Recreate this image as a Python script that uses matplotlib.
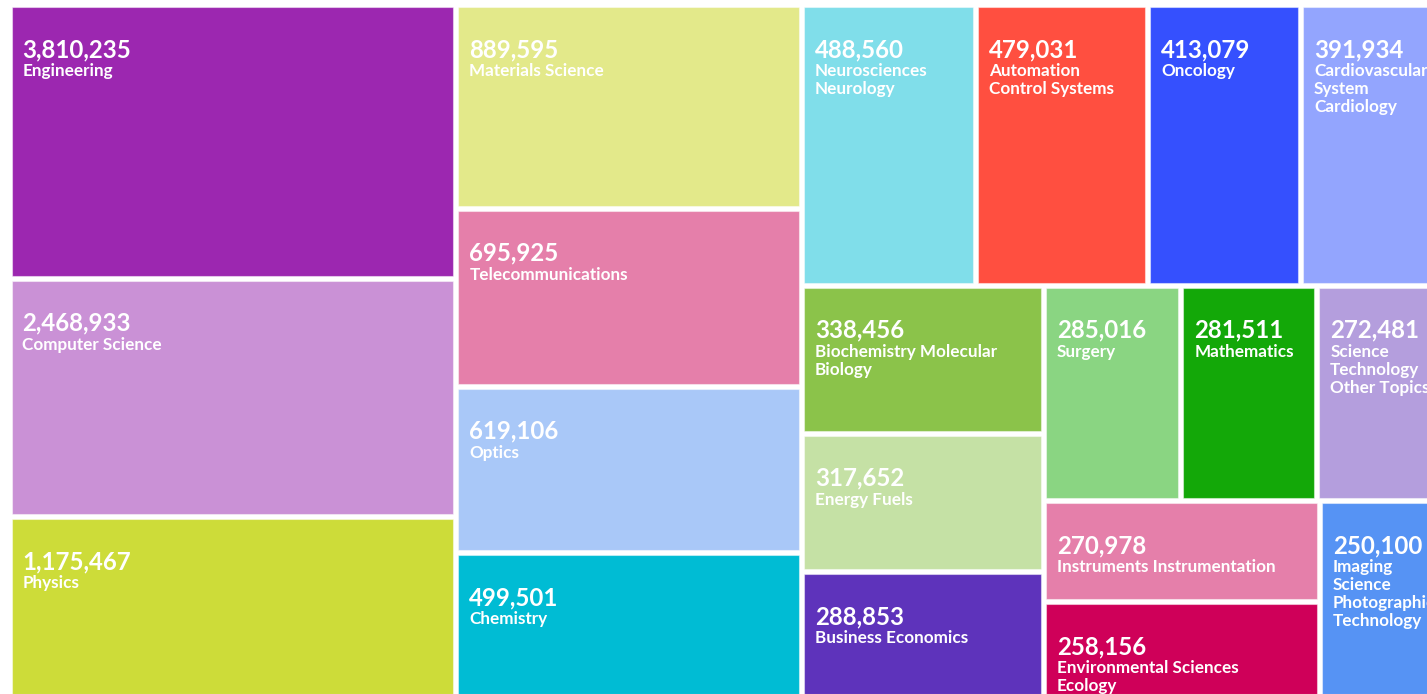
# Treemap of Web of Science records per research area (tile size ~ log of count).

import numpy as np
import matplotlib.pyplot as plt
from matplotlib.patches import Rectangle
from matplotlib.font_manager import FontProperties

subjects = ["Engineering", "Computer Science", "Physics", "Materials Science",
            "Telecommunications", "Optics", "Chemistry", "Neurosciences Neurology",
            "Automation Control Systems", "Oncology", "Cardiovascular System Cardiology",
            "Biochemistry Molecular Biology", "Energy Fuels", "Business Economics",
            "Surgery", "Mathematics", "Science Technology Other Topics",
            "Instruments Instrumentation", "Environmental Sciences Ecology",
            "Imaging Science Photographic Technology"]
counts = [3810235, 2468933, 1175467, 889595, 695925, 619106, 499501, 488560,
          479031, 413079, 391934, 338456, 317652, 288853, 285016, 281511,
          272481, 270978, 258156, 250100]
colors = ["#9C27B0", "#CA91D6", "#CDDC39", "#E3E98A", "#E57FAA", "#A9C8F8",
          "#00BCD4", "#80DEEA", "#FF4F40", "#3550FE", "#93A5FE", "#8BC34A",
          "#C5E1A5", "#5E33BB", "#8AD582", "#13A808", "#B49EDD", "#E57FAA",
          "#CF0059", "#5693F4"]

LOG_FLOOR = 124000   # tiles are sized by log(count / floor)


def squarify(weights, x0, y0, x1, y1, ratio=(1 + 5 ** 0.5) / 2):
    # same row rule as d3.treemapSquarify
    rects = [None] * len(weights)
    total = float(sum(weights))
    n = len(weights)
    i0 = 0
    while i0 < n:
        dx, dy = x1 - x0, y1 - y0
        s = lo = hi = weights[i0]
        alpha = max(dy / dx, dx / dy) / (total * ratio)
        beta = s * s * alpha
        best = max(hi / beta, beta / lo)
        i1 = i0 + 1
        while i1 < n:
            w = weights[i1]
            s2 = s + w
            lo2, hi2 = min(lo, w), max(hi, w)
            beta = s2 * s2 * alpha
            r = max(hi2 / beta, beta / lo2)
            if r > best:
                break
            s, lo, hi, best = s2, lo2, hi2, r
            i1 += 1
        if dx < dy:
            yb = y0 + dy * s / total
            xx = x0
            for i in range(i0, i1):
                w = dx * weights[i] / s
                rects[i] = (xx, y0, xx + w, yb)
                xx += w
            y0 = yb
        else:
            xb = x0 + dx * s / total
            yy = y0
            for i in range(i0, i1):
                h = dy * weights[i] / s
                rects[i] = (x0, yy, xb, yy + h)
                yy += h
            x0 = xb
        total -= s
        i0 = i1
    return rects


def wrap(label, max_w, renderer, prop):
    lines, cur = [], ""
    for word in label.split():
        test = word if not cur else cur + " " + word
        w, _, _ = renderer.get_text_width_height_descent(test, prop, ismath=False)
        if cur and w > max_w:
            lines.append(cur)
            cur = word
        else:
            cur = test
    lines.append(cur)
    return lines


W, H = 1427, 694
fig = plt.figure(figsize=(W / 100, H / 100), dpi=100)
ax = fig.add_axes([0, 0, 1, 1])
ax.set_xlim(0, W)
ax.set_ylim(H, 0)
ax.axis("off")

weights = list(np.log(np.array(counts) / LOG_FLOOR))
rects = squarify(weights, 9, 4.5, 1447, 696.5)

renderer = fig.canvas.get_renderer()
FAMILY = ["Lato", "DejaVu Sans"]
val_size, lab_size = 17.3, 12.3
lab_prop = FontProperties(family=FAMILY, weight="bold", size=lab_size)
gap = 2.5
pad = 11

for name, cnt, col, (x0, y0, x1, y1) in zip(subjects, counts, colors, rects):
    x0, y0, x1, y1 = x0 + gap, y0 + gap, x1 - gap, y1 - gap
    ax.add_patch(Rectangle((x0, y0), x1 - x0, y1 - y0, facecolor=col,
                           edgecolor=(1, 1, 1, 0.45), linewidth=0.8))
    ax.text(x0 + pad, y0 + 50, f"{cnt:,}", color="white", fontsize=val_size,
            fontweight="bold", family=FAMILY, va="baseline", ha="left")
    lines = wrap(name, 0.88 * (x1 - x0), renderer, lab_prop)
    for k, line in enumerate(lines):
        ax.text(x0 + pad, y0 + 69 + 18 * k, line, color="white",
                fontproperties=lab_prop, va="baseline", ha="left")

fig.savefig("out.png", dpi=100, facecolor="white")
